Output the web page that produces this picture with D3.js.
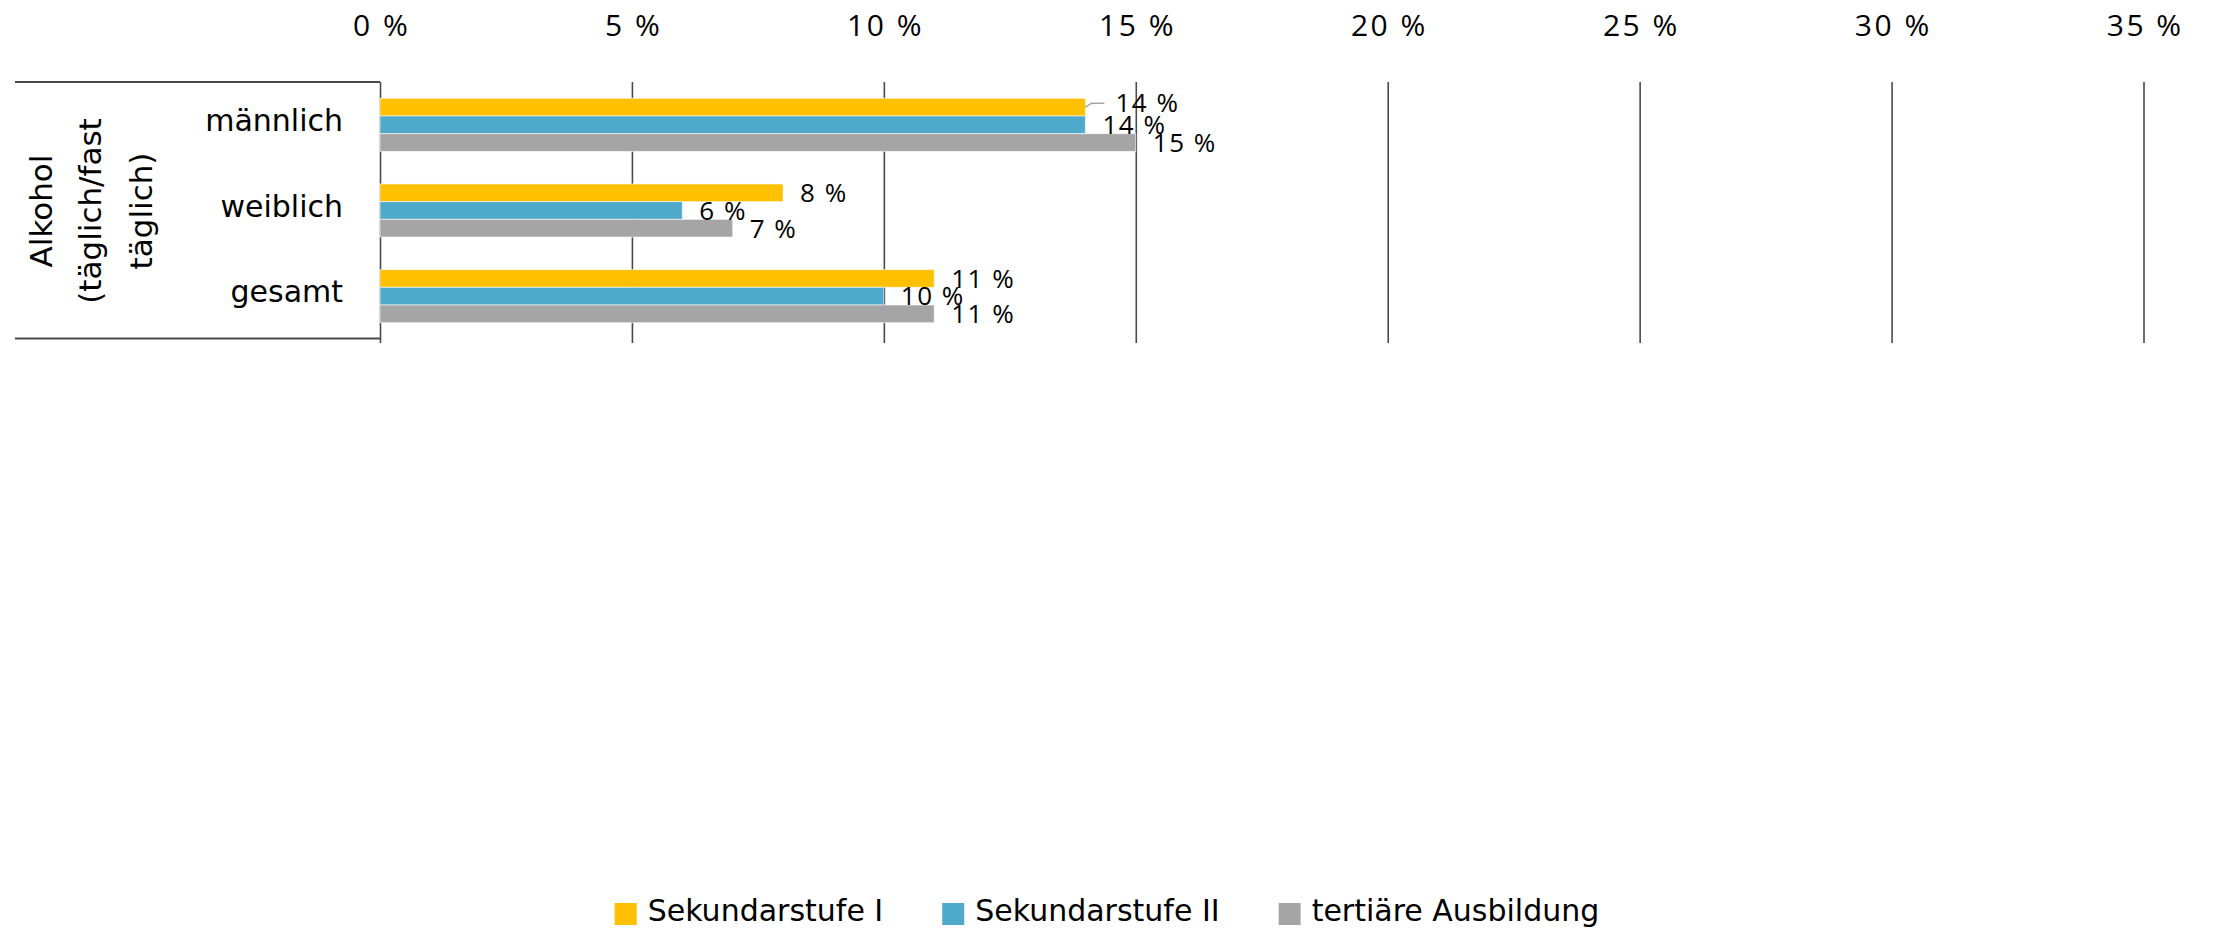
<!DOCTYPE html>
<html>
<head>
<meta charset="utf-8">
<script src="https://cdn.jsdelivr.net/npm/d3@7"></script>
<style>
  html, body { margin: 0; padding: 0; background: #fff; }
  svg { display: block; }
</style>
</head>
<body>
<svg id="chart" width="2214" height="929"></svg>
<script>
// ---------- data ----------
const categories = ["männlich", "weiblich", "gesamt"];
const seriesNames = ["Sekundarstufe I", "Sekundarstufe II", "tertiäre Ausbildung"];
const sekundarstufe1 = [14, 8, 11];
const sekundarstufe2 = [14, 6, 10];
const tertiaer = [15, 7, 11];
const tickValues = [0, 5, 10, 15, 20, 25, 30, 35];
const groupTitleLines = ["Alkohol", "(täglich/fast", "täglich)"];

// ---------- styles ----------
const colors = ["#FFC000", "#4EA9CB", "#A5A5A5"];
const numFont = "'Open Sans', sans-serif";
const txtFont = "'DejaVu Sans', sans-serif";
const lineColor = "#4a4a4a";

const seriesValues = [sekundarstufe1, sekundarstufe2, tertiaer];
const rows = [];
categories.forEach((c, ci) => {
  seriesNames.forEach((s, si) => {
    rows.push({ cat: c, ser: s, si: si, value: seriesValues[si][ci] });
  });
});

const svg = d3.select("#chart");

const plotTop = 82, plotBottom = 339;
const x = d3.scaleLinear().domain([0, 35]).range([380, 2143.5]);
const y0 = d3.scaleBand().domain(categories).range([plotTop, plotBottom])
  .paddingInner(0.38).paddingOuter(0.19);
const y1 = d3.scaleBand().domain(seriesNames).range([0, y0.bandwidth()]);
const color = d3.scaleOrdinal().domain(seriesNames).range(colors);

// ---------- gridlines ----------
const grid = svg.append("g")
  .attr("transform", `translate(0,${plotTop})`)
  .call(d3.axisBottom(x).tickValues(tickValues).tickSize(261).tickFormat(""));
grid.select(".domain").remove();
grid.selectAll(".tick line").attr("stroke", lineColor).attr("stroke-width", 1.6);

// ---------- box lines on the left ----------
svg.append("line").attr("x1", 15).attr("x2", x(0)).attr("y1", plotTop).attr("y2", plotTop)
  .attr("stroke", lineColor).attr("stroke-width", 1.8);
svg.append("line").attr("x1", 15).attr("x2", x(0)).attr("y1", 338.5).attr("y2", 338.5)
  .attr("stroke", lineColor).attr("stroke-width", 1.8);

// ---------- top axis labels ----------
const topAxis = svg.append("g")
  .attr("transform", "translate(0,36)")
  .call(d3.axisTop(x).tickValues(tickValues).tickSize(0).tickPadding(0)
    .tickFormat(d => d + " %"));
topAxis.select(".domain").remove();
topAxis.selectAll("text")
  .attr("font-family", numFont).attr("font-size", 30).attr("fill", "#000")
  .attr("letter-spacing", 2.5)
  .attr("dx", 1.2)
  .attr("dy", 0);

// ---------- bars ----------
svg.append("g").selectAll("rect").data(rows).join("rect")
  .attr("x", x(0))
  .attr("y", d => y0(d.cat) + y1(d.ser))
  .attr("width", d => x(d.value) - x(0))
  .attr("height", y1.bandwidth())
  .attr("fill", d => color(d.ser))
  .attr("stroke", "#ffffff").attr("stroke-opacity", 0.6).attr("stroke-width", 1);

// ---------- data labels ----------
const labelShift = (d) => (d.cat === "männlich" && d.si === 0) ? { dx: 13, dy: -4 } : { dx: 0, dy: 0 };

// leader line for the displaced label
rows.filter(d => labelShift(d).dx !== 0).forEach(d => {
  const bx = x(d.value), by = y0(d.cat) + y1(d.ser) + y1.bandwidth() / 2;
  const s = labelShift(d);
  svg.append("path")
    .attr("d", `M${bx},${by} L${bx + 6},${by + s.dy} L${bx + 19},${by + s.dy}`)
    .attr("fill", "none").attr("stroke", "#A6A6A6").attr("stroke-width", 1.5);
});

svg.append("g").selectAll("text").data(rows).join("text")
  .attr("x", d => x(d.value) + 17 + labelShift(d).dx)
  .attr("y", d => y0(d.cat) + y1(d.ser) + y1.bandwidth() / 2 + labelShift(d).dy + 9.3)
  .attr("font-family", numFont).attr("font-size", 26).attr("fill", "#000")
  .attr("letter-spacing", 1.5)
  .text(d => d.value + " %");

// ---------- category labels ----------
svg.append("g").selectAll("text").data(categories).join("text")
  .attr("x", 343)
  .attr("y", d => y0(d) + y0.bandwidth() / 2 + 6)
  .attr("text-anchor", "end")
  .attr("font-family", txtFont).attr("font-size", 30).attr("fill", "#000")
  .text(d => d);

// ---------- rotated group title ----------
const titleBaselines = [52, 101, 152];
const midY = (plotTop + plotBottom) / 2 + 0.5;
svg.append("g").selectAll("text").data(groupTitleLines).join("text")
  .attr("transform", (d, i) => `translate(${titleBaselines[i]},${midY}) rotate(-90)`)
  .attr("text-anchor", "middle")
  .attr("font-family", txtFont).attr("font-size", 31).attr("fill", "#000")
  .text(d => d);

// ---------- legend ----------
const legend = svg.append("g");
const items = legend.selectAll("g").data(seriesNames).join("g");
items.append("rect").attr("width", 22).attr("height", 22).attr("y", 903)
  .attr("fill", d => color(d));
items.append("text").attr("y", 921)
  .attr("font-family", txtFont).attr("font-size", 30).attr("fill", "#000")
  .text(d => d);
const widths = [];
items.select("text").each(function () { widths.push(this.getComputedTextLength()); });
const sq = 22, gap = 11, itemGap = 59;
const total = widths.reduce((a, w) => a + sq + gap + w, 0) + itemGap * (widths.length - 1);
let cx = 1107 - total / 2;
items.each(function (d, i) {
  const g = d3.select(this);
  g.select("rect").attr("x", cx);
  g.select("text").attr("x", cx + sq + gap);
  cx += sq + gap + widths[i] + itemGap;
});
</script>
</body>
</html>
